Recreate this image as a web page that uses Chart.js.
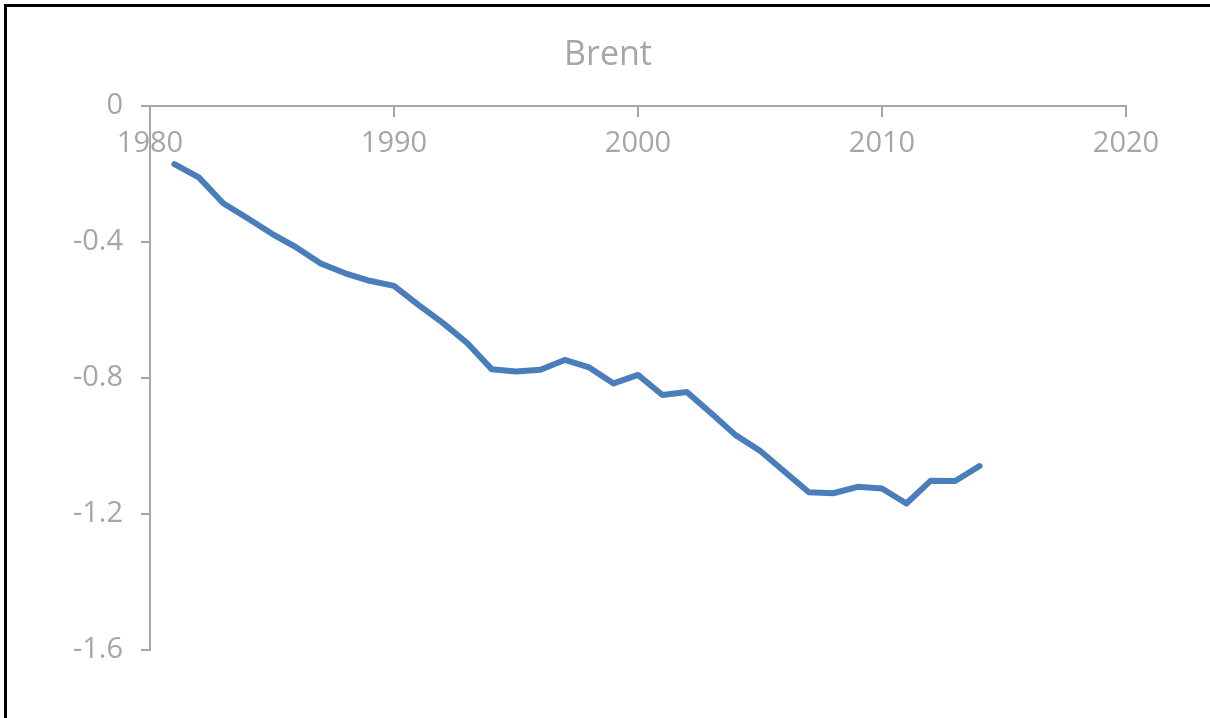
<!DOCTYPE html>
<html>
<head>
<meta charset="utf-8">
<script src="https://cdn.jsdelivr.net/npm/chart.js@4"></script>
<style>
  html, body { margin: 0; padding: 0; background: #fff; overflow: hidden; }
  #wrap { position: relative; width: 1210px; height: 718px; overflow: hidden; }
  #frame { position: absolute; left: 4px; top: 4px; width: 1300px; height: 900px;
           border-top: 3px solid #000; border-left: 3px solid #000; pointer-events: none; }
  #title { position: absolute; left: 0; top: 35px; width: 1216px; text-align: center;
           font-family: "Open Sans", "Noto Sans", sans-serif; font-size: 34px; line-height: 34px;
           color: #a6a6a6; white-space: nowrap; }
  canvas { position: absolute; left: 0; top: 0; }
</style>
</head>
<body>
<div id="wrap">
  <canvas id="c" width="1210" height="718"></canvas>
  <div id="title"></div>
  <div id="frame"></div>
</div>
<script>
const chartTitle = 'Brent';
const years = [1981,1982,1983,1984,1985,1986,1987,1988,1989,1990,
               1991,1992,1993,1994,1995,1996,1997,1998,1999,2000,
               2001,2002,2003,2004,2005,2006,2007,2008,2009,2010,
               2011,2012,2013,2014];
const brent = [-0.171,-0.210,-0.286,-0.330,-0.376,-0.416,-0.463,-0.492,-0.514,-0.529,
               -0.585,-0.638,-0.697,-0.774,-0.781,-0.776,-0.747,-0.769,-0.816,-0.791,
               -0.850,-0.841,-0.904,-0.968,-1.014,-1.075,-1.136,-1.139,-1.120,-1.125,
               -1.169,-1.102,-1.103,-1.059];
const xTicks = [1980,1990,2000,2010,2020];
const yTicks = [0,-0.4,-0.8,-1.2,-1.6];

const grey = '#a6a6a6';
const fam = '"Open Sans", "Noto Sans", sans-serif';

document.getElementById('title').textContent = chartTitle;

new Chart(document.getElementById('c'), {
  type: 'line',
  data: {
    datasets: [{
      label: chartTitle,
      data: years.map((y, i) => ({ x: y, y: brent[i] })),
      borderColor: '#4a7ebb',
      borderWidth: 6,
      pointRadius: 0,
      tension: 0,
      borderCapStyle: 'round',
      borderJoinStyle: 'round',
      fill: false
    }]
  },
  options: {
    responsive: false,
    animation: false,
    layout: { padding: { left: 0, right: 84, top: 106, bottom: 68 } },
    plugins: {
      legend: { display: false },
      tooltip: { enabled: false },
      title: { display: false }
    },
    scales: {
      x: {
        type: 'linear',
        min: xTicks[0],
        max: xTicks[xTicks.length - 1],
        position: { y: 0 },
        afterBuildTicks: s => { s.ticks = xTicks.map(v => ({ value: v })); },
        ticks: {
          color: grey,
          font: { family: fam, size: 29 },
          padding: 10,
          maxRotation: 0,
          autoSkip: false,
          callback: v => String(v)
        },
        grid: { drawOnChartArea: false, drawTicks: true, tickLength: 10, color: grey, lineWidth: 2 },
        border: { display: true, color: grey, width: 2 }
      },
      y: {
        type: 'linear',
        min: -1.6,
        max: 0,
        afterBuildTicks: s => { s.ticks = yTicks.map(v => ({ value: v })); },
        afterFit: s => { s.width = 150; },
        ticks: {
          color: grey,
          font: { family: fam, size: 29 },
          padding: 18,
          autoSkip: false,
          callback: v => (v === 0 ? '0' : Number(v).toFixed(1))
        },
        grid: { drawOnChartArea: false, drawTicks: true, tickLength: 9, color: grey, lineWidth: 2 },
        border: { display: true, color: grey, width: 2 }
      }
    }
  }
});
</script>
</body>
</html>
